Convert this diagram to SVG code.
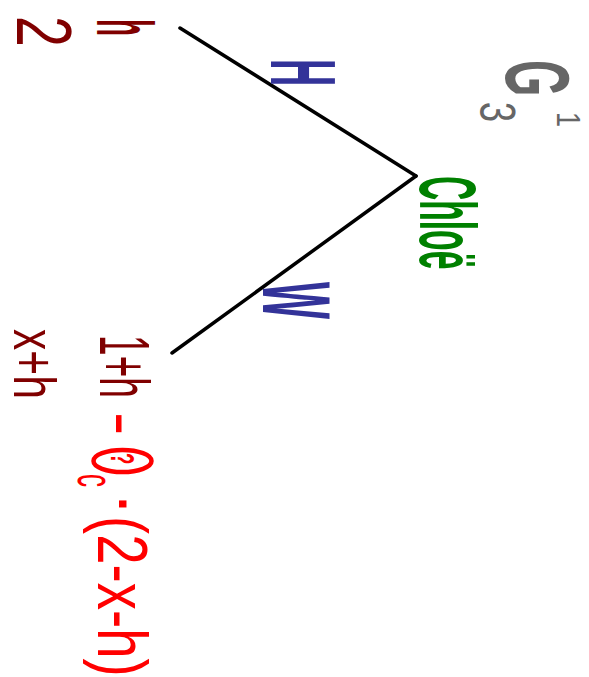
<svg xmlns="http://www.w3.org/2000/svg" width="589" height="677" viewBox="0 0 589 677">
<style>
text { font-family: "Liberation Sans", Arial, sans-serif; }
.b { font-weight: bold; }
.dr { fill: #800000; }
.rd { fill: #ff0000; }
.gr { fill: #008000; }
.bl { fill: #333399; }
.gy { fill: #666666; }
.edge { fill: none; stroke: #000; stroke-width: 3.5; stroke-linecap: round; stroke-linejoin: round; }
</style>
<rect width="589" height="677" fill="#fff"/>
<g id="connectors">
  <path class="edge" d="M180,28 L416,176"/>
  <path class="edge" d="M416,176 L172,353"/>
  <text class="bl b" font-size="92" transform="translate(271,59) rotate(90) scale(0.41,1)">H</text>
  <text class="bl b" font-size="96" transform="translate(263,282) rotate(90) scale(0.41,1)">W</text>
</g>
<g id="node-top">
  <text class="dr b" font-size="80" transform="translate(97,19) rotate(90) scale(0.35,1)">h</text>
  <text class="dr" font-size="77" transform="translate(17,16) rotate(90) scale(0.72,1)">2</text>
</g>
<g id="node-chloe">
  <text class="gr b" font-size="80" transform="translate(420,176) rotate(90) scale(0.42,1)">Chloë</text>
</g>
<g id="node-bottom">
  <text class="dr" font-size="70" transform="translate(100,335) rotate(90) scale(0.53,1)">1+h</text>
  <text class="dr" font-size="60" transform="translate(14,329) rotate(90) scale(0.71,1)">x+h</text>
  <text class="rd" font-size="70" transform="translate(100,412) rotate(90)">-</text>
  <ellipse cx="122.5" cy="461" rx="29" ry="11" fill="none" stroke="#ff0000" stroke-width="4.5"/>
  <text class="rd b" font-size="34" transform="translate(111,453) rotate(90) scale(0.55,1)">?</text>
  <text class="rd" font-size="52" transform="translate(78,474) rotate(90) scale(0.5,1)">c</text>
  <text class="rd b" font-size="50" transform="translate(106,497) rotate(90)">·</text>
  <text class="rd" font-size="70" transform="translate(98,516) rotate(90) scale(0.78,1)">(2-x-h)</text>
</g>
<g id="label-g">
  <text class="gy b" font-size="90" transform="translate(506,60) rotate(90) scale(0.52,1)">G</text>
  <text class="gy" font-size="50" transform="translate(480,102) rotate(90) scale(0.72,1)">3</text>
  <text class="gy" font-size="34" transform="translate(557,112) rotate(90) scale(0.8,1)">1</text>
</g>
</svg>
